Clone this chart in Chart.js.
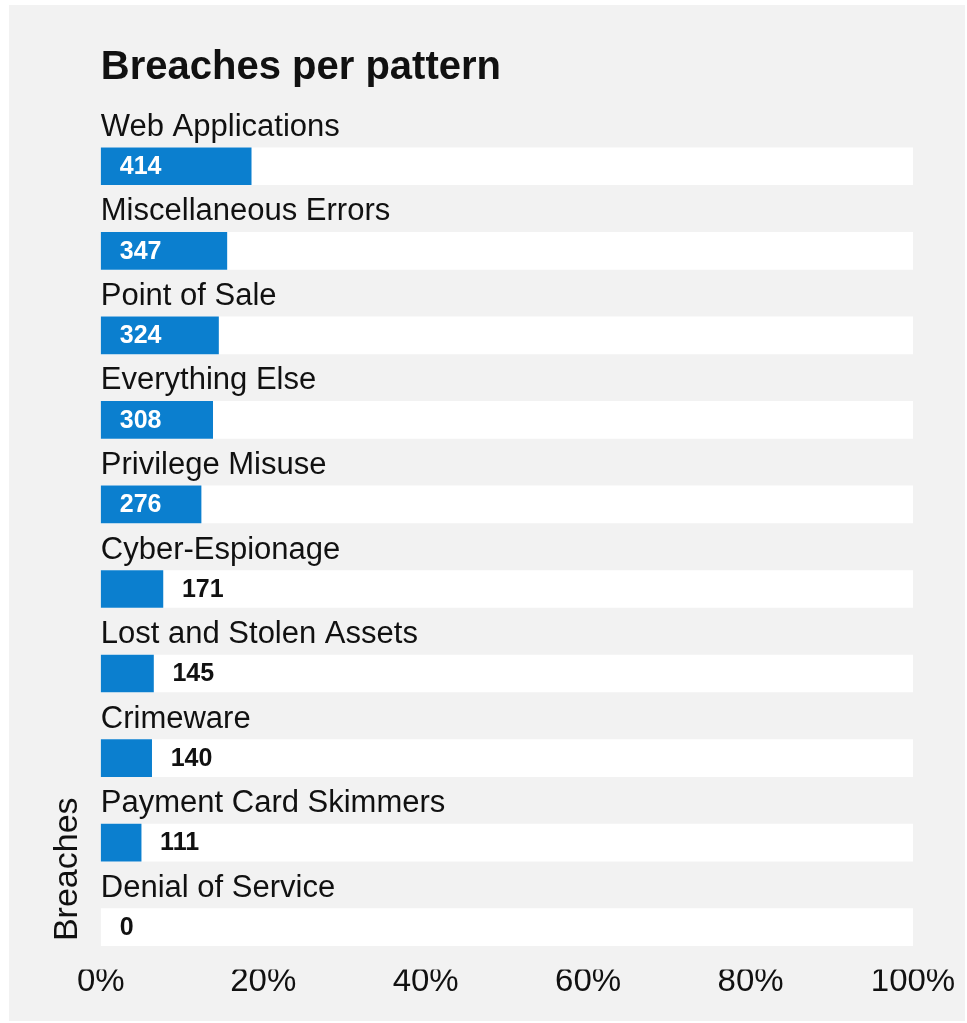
<!DOCTYPE html>
<html>
<head>
<meta charset="utf-8">
<script src="https://cdn.jsdelivr.net/npm/chart.js@4"></script>
<style>
  html, body { margin: 0; padding: 0; background: #ffffff; }
  #panel {
    position: absolute;
    left: 9px;
    top: 5px;
    width: 956px;
    height: 1016px;
    background: #f2f2f2;
  }
</style>
</head>
<body>
<div id="panel"><canvas id="chart" width="956" height="1016"></canvas></div>
<script>
// breaches per pattern (counts as printed on the bars)
const patterns = [
  "Web Applications",
  "Miscellaneous Errors",
  "Point of Sale",
  "Everything Else",
  "Privilege Misuse",
  "Cyber-Espionage",
  "Lost and Stolen Assets",
  "Crimeware",
  "Payment Card Skimmers",
  "Denial of Service"
];
const breaches = [414, 347, 324, 308, 276, 171, 145, 140, 111, 0];
const xTicks = [0, 20, 40, 60, 80, 100];

// bar length = share of all breaches
const total = breaches.reduce((a, b) => a + b, 0);
const shares = breaches.map(v => v / total * 100);
const track = patterns.map(() => 100);

const FONT = "'Liberation Sans', Arial, Helvetica, sans-serif";
const BLUE = "#0b7fcf";
const INK = "#111111";

// count labels: white inside wide bars, black just after short ones
const valueLabels = {
  id: "valueLabels",
  afterDatasetsDraw(chart) {
    const meta = chart.getDatasetMeta(0);
    const ctx = chart.ctx;
    ctx.save();
    ctx.font = "bold 25px " + FONT;
    ctx.textBaseline = "middle";
    ctx.textAlign = "left";
    meta.data.forEach((bar, i) => {
      const inside = breaches[i] >= 250;
      ctx.fillStyle = inside ? "#ffffff" : INK;
      const x = inside ? bar.base + 19 : bar.x + 19;
      ctx.fillText(String(breaches[i]), x, bar.y + 1);
    });
    ctx.restore();
  }
};

new Chart(document.getElementById("chart"), {
  type: "bar",
  data: {
    labels: patterns,
    datasets: [
      {
        data: shares,
        // no sliver for an empty row
        backgroundColor: c => (breaches[c.dataIndex] > 0 ? BLUE : "rgba(0,0,0,0)"),
        borderWidth: 0,
        grouped: false,
        barThickness: 37,
        order: 0
      },
      {
        data: track,
        backgroundColor: "#ffffff",
        borderWidth: 0,
        grouped: false,
        barThickness: 37,
        order: 1
      }
    ]
  },
  options: {
    indexAxis: "y",
    responsive: false,
    animation: false,
    layout: { padding: { top: 39, bottom: 26, left: 38, right: 52 } },
    plugins: {
      legend: { display: false },
      tooltip: { enabled: false },
      title: {
        display: true,
        text: "Breaches per pattern",
        align: "start",
        fullSize: false,
        color: INK,
        font: { family: FONT, size: 40, weight: "bold" },
        padding: { top: 0, bottom: 32 }
      }
    },
    scales: {
      x: {
        min: 0,
        max: 100,
        afterBuildTicks: s => { s.ticks = xTicks.map(v => ({ value: v })); },
        grid: { display: false, drawTicks: false },
        border: { display: false },
        ticks: {
          color: INK,
          padding: -7,
          maxRotation: 0,
          font: { family: FONT, size: 33 },
          callback: v => v + "%"
        }
      },
      y: {
        grid: { display: false, drawTicks: false },
        border: { display: false },
        ticks: {
          mirror: true,
          padding: 0,
          labelOffset: -39,
          color: INK,
          font: { family: FONT, size: 31 }
        },
        title: {
          display: true,
          text: "   Breaches",
          align: "start",
          color: INK,
          font: { family: FONT, size: 34 },
          padding: { top: 0, bottom: 13 }
        }
      }
    }
  },
  plugins: [valueLabels]
});
</script>
</body>
</html>
